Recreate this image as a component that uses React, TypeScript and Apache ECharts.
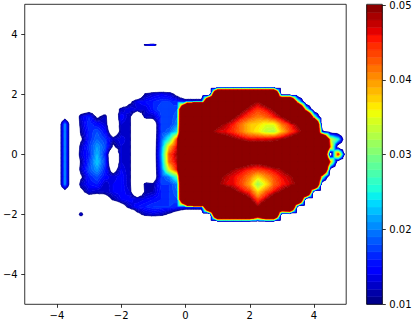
import React, { useEffect, useRef } from "react";
import * as echarts from "echarts";

// grid node coordinates
const X = [-4, -3.75, -3.5, -3.25, -3, -2.75, -2.5, -2.25, -2, -1.75, -1.5, -1.25, -1, -0.75, -0.5, -0.25, 0, 0.25, 0.5, 0.75, 1, 1.25, 1.5, 1.75, 2, 2.25, 2.5, 2.75, 3, 3.25, 3.5, 3.75, 4, 4.25, 4.5, 4.75, 5];
const Y = [3.7, 3.65, 3.6, 2.5, 2.25, 2, 1.75, 1.5, 1.25, 1, 0.75, 0.5, 0.25, 0, -0.25, -0.5, -0.75, -1, -1.25, -1.5, -1.75, -2, -2.25, -2.5];

// field values, one row per Y, one column per X
const Z = [
  [0,0,0,0,0,0,0,0,0,0,0,0,0,0,0,0, 0,0,0,0,0,0,0,0,0,0,0,0,0,0,0,0,0,0,0,0,0],
  [0,0,0,0,0,0,0,0,0,0,0,0.012,0.016,0,0,0, 0,0,0,0,0,0,0,0,0,0,0,0,0,0,0,0,0,0,0,0,0],
  [0,0,0,0,0,0,0,0,0,0,0,0,0,0,0,0, 0,0,0,0,0,0,0,0,0,0,0,0,0,0,0,0,0,0,0,0,0],
  [0,0,0,0,0,0,0,0,0,0,0,0,0,0,0,0, 0,0,0,0,0,0,0,0,0,0,0,0,0,0,0,0,0,0,0,0,0],
  [0,0,0,0,0,0,0,0,0,0,0,0,0,0,0,0, 0,0,0,0,0,0,0,0,0,0,0,0,0,0,0,0,0,0,0,0,0],
  [0,0,0,0,0,0,0,0,0,0,0,0.011,0.013,0.014,0.013,0.008, 0,0,0,0,0.1,0.1,0.1,0.1,0.1,0.1,0.1,0.1,0,0,0,0,0,0,0,0,0],
  [0,0,0,0,0,0,0,0,0,0.008,0.014,0.015,0.016,0.017,0.017,0.016, 0.015,0.015,0.015,0.1,0.1,0.1,0.1,0.06,0.052,0.049,0.053,0.06,0.1,0.1,0.03,0,0,0,0,0,0],
  [0,0,0,0.004,0.006,0.005,0.005,0.004,0.012,0.014,0.013,0.013,0.016,0.018,0.017,0.018, 0.1,0.2,0.2,0.08,0.08,0.07,0.058,0.051,0.047,0.044,0.046,0.05,0.057,0.08,0.1,0.03,0,0,0,0,0],
  [0,0.006,0,0.013,0.016,0.009,0.012,0,0.015,0.012,0,0.012,0.012,0.017,0.017,0.019, 0.1,0.08,0.08,0.07,0.065,0.056,0.05,0.046,0.043,0.041,0.042,0.045,0.049,0.055,0.08,0.1,0.03,0,0,0,0],
  [0,0.02,0,0.012,0.017,0.015,0.013,0,0.013,0.012,0,0,0.005,0.017,0.017,0.02, 0.1,0.08,0.07,0.056,0.051,0.048,0.045,0.041,0.038,0.037,0.035,0.035,0.041,0.045,0.05,0.056,0.1,0,0,0,0],
  [0,0.02,0,0.011,0.016,0.018,0.015,0.004,0.012,0.012,0,0,0.005,0.017,0.019,0.024, 0.1,0.07,0.056,0.051,0.047,0.046,0.044,0.041,0.038,0.036,0.033,0.032,0.038,0.043,0.047,0.052,0.1,0.012,0.006,0.004,0],
  [0,0.02,0,0.009,0.016,0.019,0.017,0.012,0.014,0.012,0,0,0.005,0.018,0.026,0.044, 0.1,0.08,0.07,0.065,0.056,0.053,0.05,0.048,0.046,0.046,0.046,0.047,0.049,0.052,0.056,0.07,0.08,0.1,0.035,0.025,0],
  [0,0.02,0,0.012,0.017,0.021,0.018,0.009,0.013,0.012,0,0,0.005,0.019,0.038,0.047, 0.1,0.08,0.08,0.07,0.068,0.064,0.06,0.057,0.055,0.055,0.055,0.056,0.058,0.062,0.068,0.075,0.08,0.1,0.04,0.004,0],
  [0,0.02,0,0.013,0.016,0.022,0.016,0,0.013,0.012,0,0,0.005,0.02,0.043,0.049, 0.1,0.08,0.08,0.075,0.072,0.07,0.066,0.064,0.062,0.062,0.062,0.063,0.065,0.068,0.072,0.078,0.08,0.1,0,0.045,0],
  [0,0.02,0,0.011,0.017,0.023,0.017,0,0.013,0.012,0,0,0.005,0.019,0.042,0.048, 0.1,0.08,0.08,0.07,0.068,0.064,0.058,0.054,0.052,0.051,0.053,0.056,0.06,0.064,0.07,0.075,0.08,0.1,0.04,0.004,0],
  [0,0.02,0,0.012,0.018,0.021,0.016,0.006,0.014,0.012,0,0,0.005,0.018,0.036,0.046, 0.1,0.08,0.07,0.065,0.056,0.052,0.049,0.047,0.045,0.044,0.045,0.047,0.049,0.053,0.057,0.07,0.08,0.1,0.008,0,0],
  [0,0.02,0,0.009,0.016,0.018,0.015,0.013,0.015,0.012,0,0,0.005,0.017,0.02,0.028, 0.1,0.07,0.062,0.056,0.051,0.048,0.046,0.044,0.041,0.037,0.04,0.043,0.046,0.048,0.052,0.057,0.1,0.03,0,0,0],
  [0,0.02,0,0.012,0.015,0.016,0.012,0.014,0.015,0.012,0,0.012,0.011,0.017,0.017,0.02, 0.1,0.075,0.065,0.056,0.05,0.047,0.046,0.043,0.039,0.031,0.036,0.042,0.045,0.047,0.05,0.056,0.1,0,0,0,0],
  [0,0.006,0,0.008,0.013,0.012,0.012,0.014,0.015,0.013,0,0.011,0.012,0.016,0.017,0.019, 0.1,0.08,0.075,0.07,0.064,0.056,0.051,0.047,0.044,0.037,0.042,0.046,0.05,0.055,0.08,0.1,0,0,0,0,0],
  [0,0,0,0,0.005,0.003,0.006,0.011,0.014,0.015,0.013,0.014,0.015,0.016,0.017,0.018, 0.1,0.2,0.2,0.08,0.08,0.07,0.062,0.056,0.05,0.043,0.048,0.055,0.065,0.08,0.1,0,0,0,0,0,0],
  [0,0,0,0,0,0,0,0,0.006,0.012,0.015,0.016,0.017,0.017,0.017,0.016, 0.015,0.015,0.015,0.1,0.1,0.09,0.08,0.065,0.057,0.049,0.057,0.07,0.09,0.1,0,0,0,0,0,0,0],
  [0,0,0,0.013,0,0,0,0,0,0,0.008,0.012,0.013,0.012,0.009,0.005, 0,0,0,0,0.1,0.1,0.1,0.1,0.1,0.07,0.1,0.1,0,0,0,0,0,0,0,0,0],
  [0,0,0,0,0,0,0,0,0,0,0,0,0,0,0,0, 0,0,0,0,0,0,0,0,0,0,0,0,0,0,0,0,0,0,0,0,0],
  [0,0,0,0,0,0,0,0,0,0,0,0,0,0,0,0, 0,0,0,0,0,0,0,0,0,0,0,0,0,0,0,0,0,0,0,0,0],
];

// contour levels
const LEVELS = [0.01, 0.011, 0.012, 0.013, 0.014, 0.015, 0.016, 0.017, 0.018, 0.019, 0.02, 0.021, 0.022, 0.023, 0.024, 0.025, 0.026, 0.027, 0.028, 0.029, 0.03, 0.031, 0.032, 0.033, 0.034, 0.035, 0.036, 0.037, 0.038, 0.039, 0.04, 0.041, 0.042, 0.043, 0.044, 0.045, 0.046, 0.047, 0.048, 0.049, 0.05];

const X_TICKS = [-4, -2, 0, 2, 4];
const Y_TICKS = [-4, -2, 0, 2, 4];
const CB_TICKS = [0.01, 0.02, 0.03, 0.04, 0.05];

// jet colormap segments (styling)
const JET_R = [[0, 0], [0.35, 0], [0.66, 1], [0.89, 1], [1, 0.5]];
const JET_G = [[0, 0], [0.125, 0], [0.375, 1], [0.64, 1], [0.91, 0], [1, 0]];
const JET_B = [[0, 0.5], [0.11, 1], [0.34, 1], [0.65, 0], [1, 0]];

function segVal(s: number[][], t: number) {
  for (let i = 0; i < s.length - 1; i++) {
    const a = s[i], b = s[i + 1];
    if (t >= a[0] && t <= b[0]) {
      const f = b[0] === a[0] ? 0 : (t - a[0]) / (b[0] - a[0]);
      return a[1] + f * (b[1] - a[1]);
    }
  }
  return s[s.length - 1][1];
}
function jet(t: number) {
  let idx = Math.floor(t * 256);
  if (idx > 255) idx = 255;
  if (idx < 0) idx = 0;
  const u = idx / 255;
  const r = Math.round(segVal(JET_R, u) * 255);
  const g = Math.round(segVal(JET_G, u) * 255);
  const b = Math.round(segVal(JET_B, u) * 255);
  return `rgb(${r},${g},${b})`;
}
const NB = LEVELS.length - 1;
const BAND_COLORS = LEVELS.slice(0, NB).map((_, k) => jet((k + 0.5) / NB));

function bandOf(v: number) {
  if (v < LEVELS[0]) return -1;
  for (let k = NB - 1; k >= 0; k--) if (v >= LEVELS[k]) return k;
  return -1;
}

type P = number[];
function clipHalf(poly: P[], th: number, keepAbove: boolean): P[] {
  const res: P[] = [];
  const n = poly.length;
  for (let i = 0; i < n; i++) {
    const a = poly[i], b = poly[(i + 1) % n];
    const ain = keepAbove ? a[2] >= th : a[2] <= th;
    const bin = keepAbove ? b[2] >= th : b[2] <= th;
    if (ain) res.push(a);
    if (ain !== bin) {
      const t = (th - a[2]) / (b[2] - a[2]);
      res.push([a[0] + t * (b[0] - a[0]), a[1] + t * (b[1] - a[1]), th]);
    }
  }
  return res;
}

function sub(points: P[]) {
  let s = "";
  for (let i = 0; i < points.length; i++) {
    s += (i === 0 ? "M" : "L") + points[i][0].toFixed(2) + " " + points[i][1].toFixed(2);
  }
  return s + "Z";
}

function addBands(tri: P[], out: string[][]) {
  const vs = tri.map((p) => p[2]);
  const vmin = Math.min(...vs), vmax = Math.max(...vs);
  if (vmax < LEVELS[0]) return;
  for (let k = 0; k < NB; k++) {
    const lo = LEVELS[k];
    const hi = k === NB - 1 ? Infinity : LEVELS[k + 1];
    if (vmax < lo || vmin >= hi) continue;
    let pts = tri;
    if (vmin < lo) pts = clipHalf(pts, lo, true);
    if (pts.length >= 3 && vmax > hi) pts = clipHalf(pts, hi, false);
    if (pts.length < 3) continue;
    out[k].push(sub(pts));
  }
}

// filled contours of the whole grid, one compound path per band
function renderField(params: any, api: any) {
  const out: string[][] = BAND_COLORS.map(() => []);
  const PX = X.map((x) => api.coord([x, 0])[0]);
  const PY = Y.map((y) => api.coord([0, y])[1]);
  for (let rj = 0; rj < Y.length - 1; rj++) {
    for (let ci = 0; ci < X.length - 1; ci++) {
      const v = [Z[rj][ci], Z[rj][ci + 1], Z[rj + 1][ci + 1], Z[rj + 1][ci]];
      if (Math.max(...v) < LEVELS[0]) continue;
      const corners: P[] = [
        [PX[ci], PY[rj], v[0]],
        [PX[ci + 1], PY[rj], v[1]],
        [PX[ci + 1], PY[rj + 1], v[2]],
        [PX[ci], PY[rj + 1], v[3]],
      ];
      const bands = v.map(bandOf);
      if (bands[0] >= 0 && bands.every((b) => b === bands[0])) {
        out[bands[0]].push(sub(corners));
        continue;
      }
      const center: P = [
        (PX[ci] + PX[ci + 1]) / 2,
        (PY[rj] + PY[rj + 1]) / 2,
        (v[0] + v[1] + v[2] + v[3]) / 4,
      ];
      for (let i = 0; i < 4; i++) addBands([corners[i], corners[(i + 1) % 4], center], out);
    }
  }
  const children: any[] = [];
  out.forEach((arr, k) => {
    if (!arr.length) return;
    children.push({
      type: "path",
      silent: true,
      shape: { pathData: arr.join("") },
      style: { fill: BAND_COLORS[k], stroke: BAND_COLORS[k], lineWidth: 0.5 },
    });
  });
  return { type: "group", children };
}

function renderBand(params: any, api: any) {
  const k = api.value(2);
  const a = api.coord([0, LEVELS[k]]);
  const b = api.coord([1, LEVELS[k + 1]]);
  return {
    type: "rect",
    silent: true,
    shape: { x: a[0], y: b[1], width: b[0] - a[0], height: a[1] - b[1] },
    style: { fill: BAND_COLORS[k], stroke: BAND_COLORS[k], lineWidth: 0.5 },
  };
}

const fmtSigned = (v: number) => (v < 0 ? "\u2212" + Math.abs(v) : String(v));
const FONT = { color: "#000", fontSize: 10, fontFamily: "DejaVu Sans" };
const TICK = { show: true, length: 3.5, lineStyle: { color: "#000", width: 0.8 } };

export default function App() {
  const ref = useRef<HTMLDivElement>(null);
  useEffect(() => {
    document.body.style.margin = "0";
    if (!ref.current) return;
    const chart = echarts.init(ref.current, undefined, { renderer: "svg" });
    const bands: number[][] = [];
    for (let k = 0; k < NB; k++) bands.push([0.5, LEVELS[k], k]);

    const G0 = { left: 24.5, top: 4.3, width: 321.7, height: 300 };
    const G1 = { left: 366.7, top: 4.3, width: 15.6, height: 300 };
    chart.setOption({
      animation: false,
      grid: [
        { ...G0, show: true, borderColor: "#000", borderWidth: 0.8, backgroundColor: "#fff" },
        { ...G1, show: false },
      ],
      xAxis: [
        {
          gridIndex: 0, type: "value", min: -5, max: 5, position: "bottom",
          axisLine: { show: false, onZero: false }, splitLine: { show: false },
          axisTick: { ...TICK, customValues: X_TICKS },
          axisLabel: { customValues: X_TICKS, formatter: fmtSigned, margin: 6, ...FONT },
        },
        { gridIndex: 1, type: "value", min: 0, max: 1, show: false },
      ],
      yAxis: [
        {
          gridIndex: 0, type: "value", min: -5, max: 5, position: "left",
          axisLine: { show: false, onZero: false }, splitLine: { show: false },
          axisTick: { ...TICK, customValues: Y_TICKS },
          axisLabel: { customValues: Y_TICKS, formatter: fmtSigned, margin: 7, ...FONT },
        },
        {
          gridIndex: 1, type: "value", min: 0.01, max: 0.05, position: "right",
          axisLine: { show: false, onZero: false }, splitLine: { show: false },
          axisTick: { ...TICK, customValues: CB_TICKS },
          axisLabel: { customValues: CB_TICKS, formatter: (v: number) => v.toFixed(2), margin: 7, ...FONT },
        },
      ],
      series: [
        { type: "custom", xAxisIndex: 0, yAxisIndex: 0, data: [[0, 0]], renderItem: renderField, silent: true },
        { type: "custom", xAxisIndex: 1, yAxisIndex: 1, data: bands, renderItem: renderBand, silent: true },
      ],
      graphic: [
        {
          type: "rect", z: 100, silent: true,
          shape: { x: G1.left, y: G1.top, width: G1.width, height: G1.height },
          style: { fill: "none", stroke: "#000", lineWidth: 0.8 },
        },
      ],
    });
    return () => chart.dispose();
  }, []);
  return <div ref={ref} style={{ width: 415, height: 322 }} />;
}
